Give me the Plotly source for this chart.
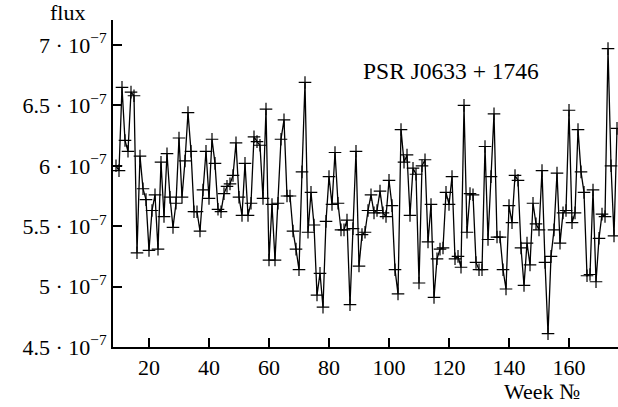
import plotly.graph_objects as go

# Week numbers (one observation per week)
weeks = list(range(9, 177))

# Flux values in units of 1e-7
flux_e7 = [
    6.00, 5.96, 6.65, 6.21, 6.12, 6.61, 6.58, 5.28, 6.08, 5.81,   # 9-18
    5.72, 5.30, 5.63, 5.76, 5.31, 6.03, 5.58, 6.10, 5.74, 5.49,   # 19-28
    5.69, 6.23, 5.74, 6.04, 6.44, 6.12, 5.62, 5.62, 5.46, 5.80,   # 29-38
    6.12, 5.73, 6.22, 6.02, 5.64, 5.62, 5.77, 5.83, 5.85, 5.92,   # 39-48
    6.19, 5.74, 5.59, 6.02, 5.59, 5.69, 6.24, 6.20, 6.17, 5.73,   # 49-58
    6.47, 5.22, 5.68, 5.22, 5.69, 6.22, 6.38, 5.75, 5.75, 5.46,   # 59-68
    5.31, 5.14, 5.95, 6.69, 5.45, 5.78, 5.51, 4.93, 5.11, 4.83,   # 69-78
    5.54, 5.91, 5.68, 6.11, 5.69, 5.47, 5.47, 5.55, 4.85, 5.48,   # 79-88
    6.12, 5.17, 5.43, 5.45, 5.63, 5.76, 5.61, 5.63, 5.79, 5.61,   # 89-98
    5.58, 5.88, 5.67, 5.14, 4.94, 6.30, 6.03, 6.09, 5.59, 5.98,   # 99-108
    5.93, 5.03, 6.00, 6.05, 5.37, 5.68, 4.91, 5.23, 5.31, 5.32,   # 109-118
    5.78, 5.68, 5.91, 5.23, 5.25, 5.16, 6.50, 5.45, 5.77, 5.76,   # 119-128
    5.20, 5.14, 5.14, 6.16, 5.39, 5.91, 6.43, 5.41, 5.41, 5.14,   # 129-138
    4.98, 5.67, 5.53, 5.92, 5.88, 5.32, 5.01, 5.36, 5.18, 5.69,   # 139-148
    5.52, 5.47, 5.96, 5.20, 4.61, 5.25, 5.47, 5.94, 5.36, 5.61,   # 149-158
    5.63, 6.46, 5.53, 5.61, 6.30, 5.95, 5.78, 5.09, 5.10, 5.80,   # 159-168
    5.04, 5.40, 5.60, 5.58, 6.97, 6.00, 5.42, 6.31,               # 169-176
]
assert len(weeks) == len(flux_e7)
flux = [v * 1e-7 for v in flux_e7]

ytick_vals = [4.5e-7, 5e-7, 5.5e-7, 6e-7, 6.5e-7, 7e-7]
ytick_text = ["4.5 · 10<sup>−7</sup>", "5 · 10<sup>−7</sup>", "5.5 · 10<sup>−7</sup>",
              "6 · 10<sup>−7</sup>", "6.5 · 10<sup>−7</sup>", "7 · 10<sup>−7</sup>"]
xtick_vals = [20, 40, 60, 80, 100, 120, 140, 160]
xtick_text = ["20", "40", "60", "80", "100", "120", "140", "160"]

FONT = "Liberation Serif"

fig = go.Figure()
fig.add_trace(go.Scatter(
    x=weeks, y=flux, mode="lines+markers",
    line=dict(color="black", width=1.3),
    marker=dict(symbol="cross-thin", size=9, line=dict(color="black", width=1.2)),
    cliponaxis=True, showlegend=False,
))

fig.update_layout(
    width=618, height=407,
    margin=dict(l=113, r=0, t=20, b=60),
    paper_bgcolor="white", plot_bgcolor="white",
    font=dict(family=FONT, size=22, color="black"),
    xaxis=dict(range=[8, 176.33], tickvals=xtick_vals, ticktext=xtick_text,
               ticks="inside", ticklen=9, tickwidth=2, tickcolor="black",
               showline=True, linewidth=2, linecolor="black",
               showgrid=False, zeroline=False,
               tickfont=dict(family=FONT, size=22, color="black")),
    yaxis=dict(range=[4.5e-7, 7.207e-7], tickvals=ytick_vals, ticktext=ytick_text,
               ticks="inside", ticklen=9, tickwidth=2, tickcolor="black",
               showline=True, linewidth=2, linecolor="black",
               showgrid=False, zeroline=False,
               tickfont=dict(family=FONT, size=22, color="black")),
    annotations=[
        dict(text="flux", xref="paper", yref="paper", x=-0.091, y=1.0,
             xanchor="center", yanchor="bottom", showarrow=False,
             font=dict(family=FONT, size=22, color="black"), yshift=-7),
        dict(text="Week №", xref="paper", yref="paper", x=0.85, y=0,
             xanchor="center", yanchor="top", showarrow=False,
             font=dict(family=FONT, size=22, color="black"), yshift=-30),
        dict(text="PSR J0633 + 1746", xref="paper", yref="paper", x=0.67, y=0.845,
             xanchor="center", yanchor="middle", showarrow=False,
             font=dict(family=FONT, size=23.5, color="black")),
    ],
)

fig.write_html("out.html",
               config={"displayModeBar": False},
               post_script="document.body.style.margin='0';document.body.style.padding='0';")
